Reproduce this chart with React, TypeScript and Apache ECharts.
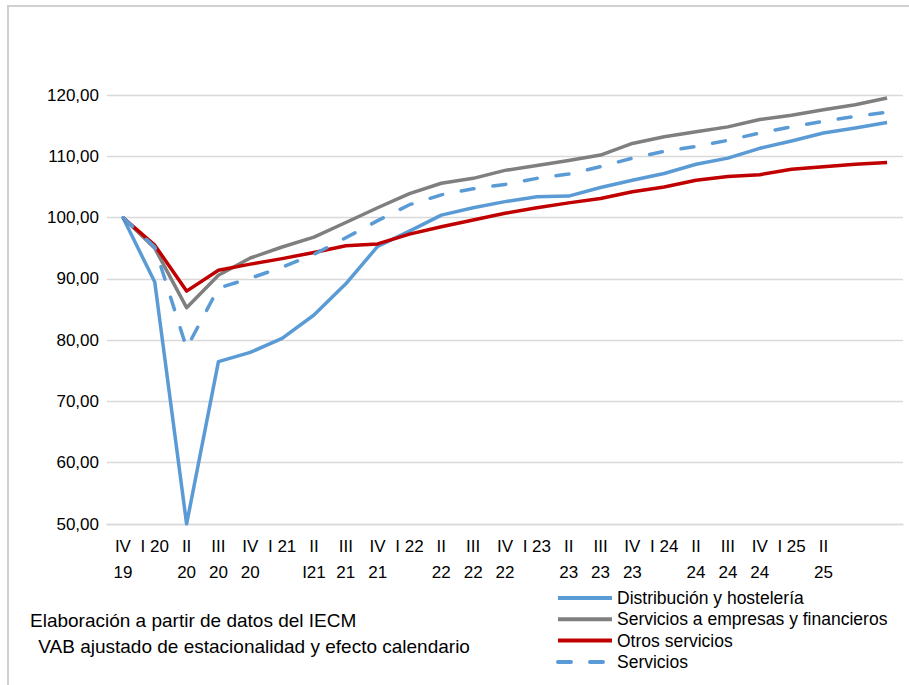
import React, { useEffect, useRef } from "react";
import * as echarts from "echarts";

const categories = [
  "IV\n19", "I 20", "II\n20", "III\n20", "IV\n20", "I 21", "II\nI21", "III\n21", "IV\n21",
  "I 22", "II\n22", "III\n22", "IV\n22", "I 23", "II\n23", "III\n23", "IV\n23",
  "I 24", "II\n24", "III\n24", "IV\n24", "I 25", "II\n25", "", "",
];

const distribucion = [100, 89.5, 50.0, 76.5, 78.0, 80.3, 84.1, 89.2, 95.3, 97.8, 100.4, 101.6, 102.6, 103.4, 103.5, 104.9, 106.1, 107.2, 108.7, 109.7, 111.3, 112.5, 113.8, 114.6, 115.5];
const empresas = [100, 95.0, 85.3, 90.6, 93.4, 95.2, 96.8, 99.2, 101.6, 103.9, 105.6, 106.4, 107.7, 108.5, 109.3, 110.2, 112.1, 113.2, 114.0, 114.8, 116.0, 116.7, 117.6, 118.4, 119.5];
const otros = [100, 95.5, 88.0, 91.4, 92.4, 93.3, 94.3, 95.4, 95.7, 97.3, 98.5, 99.6, 100.7, 101.6, 102.4, 103.1, 104.2, 105.0, 106.1, 106.7, 107.0, 107.9, 108.3, 108.7, 109.0];
const servicios = [100, 95.2, 78.7, 88.5, 90.1, 91.9, 94.0, 96.7, 99.5, 102.1, 103.7, 104.7, 105.4, 106.4, 107.1, 108.3, 109.7, 110.8, 111.6, 112.6, 113.8, 114.8, 115.7, 116.5, 117.2];

const seriesNames = [
  "Distribución y hostelería",
  "Servicios a empresas y financieros",
  "Otros servicios",
  "Servicios",
];

const notes = [
  "Elaboración a partir de datos del IECM",
  " VAB ajustado de estacionalidad y efecto calendario",
];

const FONT = "'Liberation Sans', Arial, sans-serif";

export default function App() {
  const ref = useRef<HTMLDivElement>(null);
  useEffect(() => {
    if (!ref.current) return;
    const chart = echarts.init(ref.current, undefined, { renderer: "svg" });
    const mk = (name: string, data: number[], color: string, dashed = false) => ({
      name,
      type: "line",
      data,
      symbol: "none",
      showSymbol: false,
      lineStyle: {
        color,
        width: 3.5,
        type: dashed ? [13, 19] : "solid",
        cap: dashed ? "round" : "butt",
        join: "round",
      },
      itemStyle: { color },
    });
    chart.setOption({
      animation: false,
      textStyle: { fontFamily: FONT },
      grid: { left: 107, right: 6, top: 95, bottom: 161, containLabel: false },
      xAxis: {
        type: "category",
        data: categories,
        boundaryGap: true,
        axisTick: { show: false },
        axisLine: { show: true, lineStyle: { color: "#d9d9d9", width: 1.3 } },
        axisLabel: {
          interval: 0,
          color: "#000",
          fontSize: 17,
          lineHeight: 26,
          margin: 9,
          fontFamily: FONT,
        },
      },
      yAxis: {
        type: "value",
        min: 50,
        max: 120,
        interval: 10,
        axisLine: { show: false },
        axisTick: { show: false },
        splitLine: { lineStyle: { color: "#d9d9d9", width: 1.3 } },
        axisLabel: {
          color: "#000",
          fontSize: 17,
          margin: 8,
          fontFamily: FONT,
          formatter: (v: number) => v.toFixed(2).replace(".", ","),
        },
      },
      legend: {
        orient: "vertical",
        left: 551,
        top: 584,
        itemWidth: 54,
        itemHeight: 14,
        itemGap: 3.3,
        itemStyle: { opacity: 0 },
        lineStyle: { width: 4 },
        textStyle: { fontSize: 17.5, color: "#000", fontFamily: FONT, padding: [0, 0, 0, 0] },
        data: seriesNames,
      },
      graphic: [
        {
          type: "rect",
          shape: { x: 7, y: 5, width: 902, height: 2 },
          style: { fill: "#d0d0d0" },
          silent: true,
          z: 100,
        },
        {
          type: "rect",
          shape: { x: 7, y: 5, width: 2, height: 680 },
          style: { fill: "#d0d0d0" },
          silent: true,
          z: 100,
        },
        {
          type: "text",
          x: 30,
          y: 620,
          style: { text: notes[0], font: `19px ${FONT}`, fill: "#000", textVerticalAlign: "middle" },
        },
        {
          type: "text",
          x: 33,
          y: 646,
          style: { text: notes[1], font: `19px ${FONT}`, fill: "#000", textVerticalAlign: "middle" },
        },
      ],
      series: [
        mk(seriesNames[0], distribucion, "#5b9bd5"),
        mk(seriesNames[1], empresas, "#7f7f7f"),
        mk(seriesNames[2], otros, "#c00000"),
        mk(seriesNames[3], servicios, "#5b9bd5", true),
      ],
    });
    return () => chart.dispose();
  }, []);
  return (
    <div style={{ position: "fixed", left: 0, top: 0, width: 909, height: 685, overflow: "hidden", background: "#fff" }}>
      <div ref={ref} style={{ width: 909, height: 685 }} />
    </div>
  );
}
